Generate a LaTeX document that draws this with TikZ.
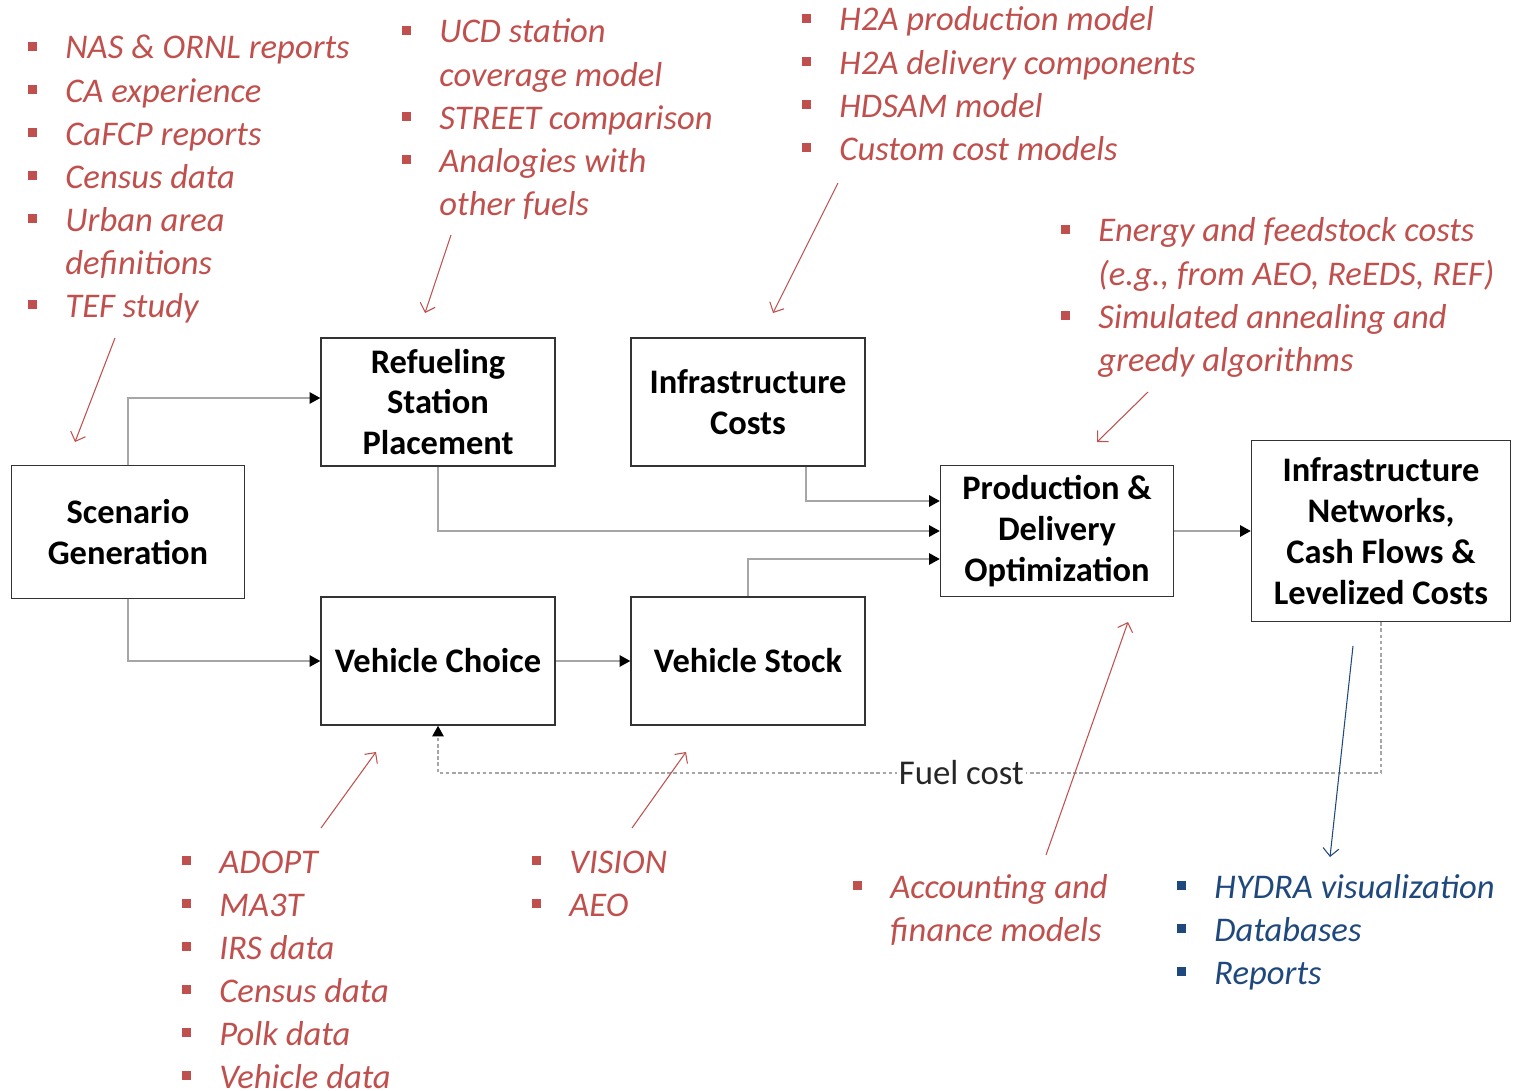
\documentclass[tikz,border=0pt]{standalone}
\usepackage{fontspec}
\setmainfont{Carlito}
\usetikzlibrary{arrows.meta,positioning}
\definecolor{notered}{HTML}{C0504D}
\definecolor{noteblue}{HTML}{1F497D}
\newcommand{\sqbul}{\rule[4.8pt]{4.8pt}{4.8pt}}
\newcommand{\notelist}[1]{\begin{tabular}[t]{@{}l@{\hspace{16.3pt}}l@{}}#1\end{tabular}}

\begin{document}
\begin{tikzpicture}[
    x=0.02cm, y=-0.02cm,
    box/.style={rectangle, draw=black!80, line width=0.9pt, align=center, inner sep=0pt,
        minimum width=4.68cm, minimum height=2.56cm, font=\bfseries\fontsize{19.6}{23.3}\selectfont},
    notes/.style={anchor=base west, inner sep=0pt, text=notered, font=\itshape\fontsize{19.7}{24.5}\selectfont},
    conn/.style={draw=black!35, line width=0.6pt, -{Triangle[length=6pt,width=6.5pt,color=black]}},
    fb/.style={conn, dash pattern=on 2pt off 1.5pt},
    note/.style={draw=notered, line width=0.6pt, -{Straight Barb[length=4.5pt,width=9pt]}}
]
    \useasboundingbox (0,0) rectangle (1518,1091);

    % main blocks
    \node[box, minimum width=4.66cm, minimum height=2.66cm] (scen) at (128,532) {Scenario\\Generation};
    \node[box] (refuel) at (438,402) {Refueling\\Station\\Placement};
    \node[box] (infra) at (748,402) {Infrastructure\\Costs};
    \node[box] (choice) at (438,661) {Vehicle Choice};
    \node[box] (stock) at (748,661) {Vehicle Stock};
    \node[box, minimum width=4.66cm, minimum height=2.62cm] (prod) at (1057,531) {Production \&\\Delivery\\Optimization};
    \node[box, minimum width=5.18cm, minimum height=3.62cm] (net) at (1381,531) {Infrastructure\\Networks,\\Cash Flows \&\\Levelized Costs};

    % flow
    \draw[conn] (scen.north) |- ([yshift=0.08cm]refuel.west);
    \draw[conn] (scen.south) |- (choice.west);
    \draw[conn] (refuel.south) |- (prod.west);
    \draw[conn] ([xshift=1.16cm]infra.south) |- ([yshift=0.6cm]prod.west);
    \draw[conn] (stock.north) |- ([yshift=-0.56cm]prod.west);
    \draw[conn] (choice.east) -- (stock.west);
    \draw[conn] (prod.east) -- (net.west);

    % fuel cost feedback
    \coordinate (fuelrow) at (0,773);
    \draw[fb] (net.south) -- (net.south |- fuelrow)
        -- node[pos=0.445, fill=white, inner sep=1pt, text=black!85, font=\fontsize{19.8}{22}\selectfont] (fuel) {Fuel cost}
        (choice.south |- fuelrow) -- (choice.south);

    % input lists
    \node[notes] (srcscen) at (28,59) {\notelist{
        \sqbul & NAS \& ORNL reports\\
        \sqbul & CA experience\\
        \sqbul & CaFCP reports\\
        \sqbul & Census data\\
        \sqbul & Urban area\\
               & definitions\\
        \sqbul & TEF study}};
    \node[notes] (srcrefuel) at (402,43) {\notelist{
        \sqbul & UCD station\\
               & coverage model\\
        \sqbul & STREET comparison\\
        \sqbul & Analogies with\\
               & other fuels}};
    \node[notes] (srcinfra) at (802,31) {\notelist{
        \sqbul & H2A production model\\
        \sqbul & H2A delivery components\\
        \sqbul & HDSAM model\\
        \sqbul & Custom cost models}};
    \node[notes] (srcopt) at (1061,242) {\notelist{
        \sqbul & Energy and feedstock costs\\
               & (e.g., from AEO, ReEDS, REF)\\
        \sqbul & Simulated annealing and\\
               & greedy algorithms}};
    \node[notes] (srcchoice) at (182,873) {\notelist{
        \sqbul & ADOPT\\
        \sqbul & MA3T\\
        \sqbul & IRS data\\
        \sqbul & Census data\\
        \sqbul & Polk data\\
        \sqbul & Vehicle data}};
    \node[notes] (srcstock) at (532,873) {\notelist{
        \sqbul & VISION\\
        \sqbul & AEO}};
    \node[notes] (srcfin) at (853,898) {\notelist{
        \sqbul & Accounting and\\
               & finance models}};
    \node[notes, text=noteblue] (outnet) at (1177,898) {\notelist{
        \sqbul & HYDRA visualization\\
        \sqbul & Databases\\
        \sqbul & Reports}};

    % pointers
    \coordinate (p1a) at (115,338);  \coordinate (p1b) at (75,442);
    \coordinate (p2a) at (451,235);  \coordinate (p2b) at (425,313);
    \coordinate (p3a) at (838,183);  \coordinate (p3b) at (773,313);
    \coordinate (p4a) at (1148,392); \coordinate (p4b) at (1097,442);
    \coordinate (p5a) at (321,828);  \coordinate (p5b) at (376,752);
    \coordinate (p6a) at (632,828);  \coordinate (p6b) at (686,752);
    \coordinate (p7a) at (1046,855); \coordinate (p7b) at (1128,622);
    \coordinate (p8a) at (1353,646); \coordinate (p8b) at (1330,857);
    \foreach \i in {1,...,7}
        \draw[note] (p\i a) -- (p\i b);
    \draw[note, draw=noteblue] (p8a) -- (p8b);
\end{tikzpicture}
\end{document}
